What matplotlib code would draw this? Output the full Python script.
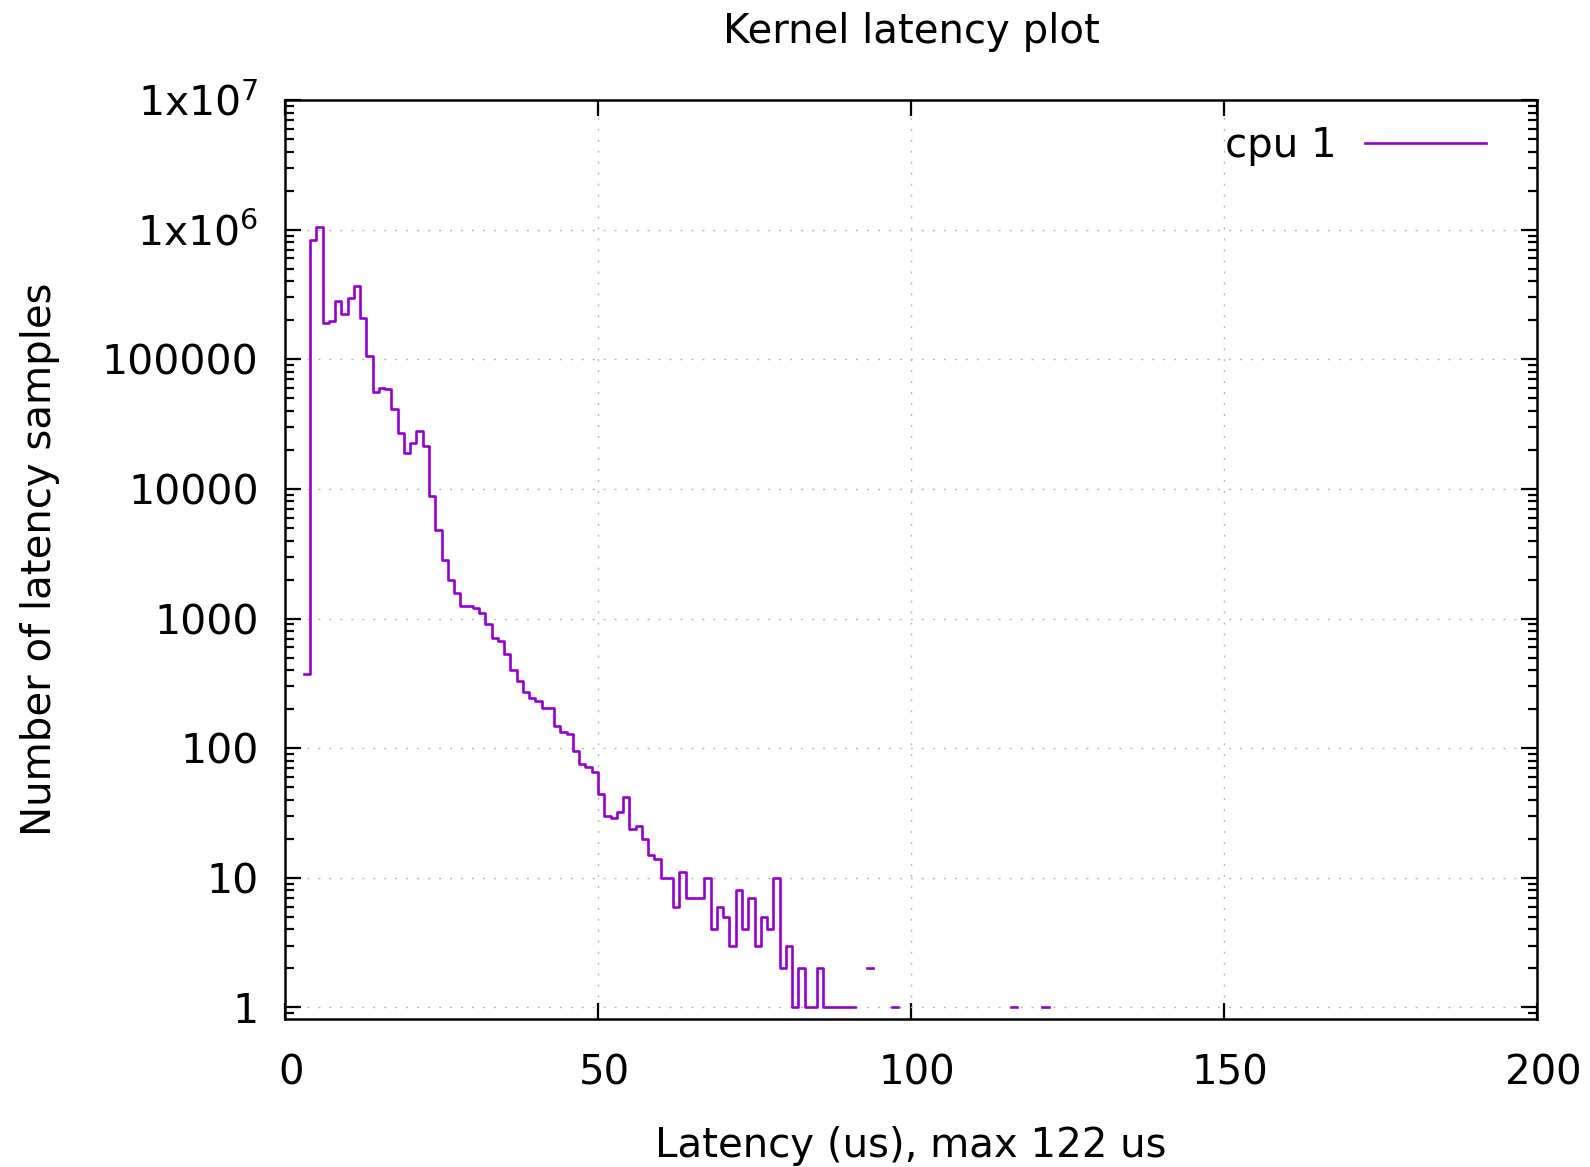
import numpy as np
import matplotlib
matplotlib.use("Agg")
import matplotlib.pyplot as plt
import matplotlib.transforms as mtransforms
from matplotlib import ticker

# latency histogram, cpu 1 (bin = 1 us), zero counts are gaps on the log axis
latency_us = list(range(3, 123))
counts = [
    373, 837000, 1050000, 189000, 196000, 284000, 225000, 298000, 370000, 209000,
    105700, 55800, 60300, 58500, 41000, 26800, 18900, 22500, 28200, 21600,
    8810, 4850, 2850, 1990, 1580, 1260, 1250, 1210, 1110, 906,
    702, 673, 532, 403, 331, 270, 242, 232, 205, 203,
    149, 134, 128, 96, 75, 72, 66, 44, 30, 29,
    32, 42, 24, 25, 20, 15, 14, 10, 10, 6,
    11, 7, 7, 7, 10, 4, 6, 5, 3, 8,
    4, 7, 3, 5, 4, 10, 2, 3, 1, 2,
    1, 1, 2, 1, 1, 1, 1, 1, 0, 0,
    2, 0, 0, 0, 1, 0, 0, 0, 0, 0,
    0, 0, 0, 0, 0, 0, 0, 0, 0, 0,
    0, 0, 0, 1, 0, 0, 0, 0, 1, 0,
]
series_label = "cpu 1"

x_ticks = [0, 50, 100, 150, 200]
y_ticks = [1, 10, 100, 1000, 10000, 100000, 1e6, 1e7]
y_tick_labels = ["1", "10", "100", "1000", "10000", "100000",
                 "1x10$^{6}$", "1x10$^{7}$"]

FS = 29
plt.rcParams["font.family"] = ["DejaVu Sans"]
plt.rcParams["mathtext.fontset"] = "dejavusans"

W, H = 1590, 1167
fig = plt.figure(figsize=(W / 100, H / 100), dpi=100)
left, right, top, bottom = 285, 1537, 100, 1019
ax = fig.add_axes([left / W, 1 - bottom / H, (right - left) / W, (bottom - top) / H])

y = np.array(counts, dtype=float)
y[y <= 0] = np.nan
ax.step(latency_us, y, where="post", color="#9400d3", lw=1.9, label=series_label)

ax.set_yscale("log")
ax.set_xlim(0, 200)
ax.set_ylim(0.815, 1e7)

ax.set_xticks(x_ticks)
ax.set_yticks(y_ticks)
ax.set_yticklabels(y_tick_labels)
ax.yaxis.set_minor_locator(ticker.LogLocator(base=10, subs=np.arange(2, 10), numticks=100))
ax.yaxis.set_minor_formatter(ticker.NullFormatter())
ax.xaxis.set_minor_locator(ticker.NullLocator())

ax.tick_params(which="both", direction="in", top=True, right=True,
               width=1.6, color="black")
ax.tick_params(axis="y", labelsize=29.5, pad=19)
ax.tick_params(axis="x", labelsize=FS, pad=25)
ax.tick_params(which="major", length=11.5)
ax.tick_params(which="minor", length=6.5)

# gnuplot puts the x labels a few pixels right of the tick
offset = mtransforms.ScaledTranslation(6 / 100, 0, fig.dpi_scale_trans)
for lbl in ax.get_xticklabels():
    lbl.set_transform(lbl.get_transform() + offset)

ax.grid(True, which="major", color="#b4b4b4", lw=1.0, linestyle=(0, (1.4, 6.5)))
ax.set_axisbelow(True)
for s in ax.spines.values():
    s.set_linewidth(1.8)
    s.set_color("black")

ax.set_title("Kernel latency plot", fontsize=FS, y=(bottom - 40) / (bottom - top), va="center")
ax.set_xlabel("Latency (us), max 122 us", fontsize=FS, va="center")
ax.xaxis.set_label_coords(0.5, (bottom - 1146) / (bottom - top))
ax.set_ylabel("Number of latency samples", fontsize=FS, va="center")
ax.yaxis.set_label_coords((40 - left) / (right - left), 0.5)

ax.legend(loc="upper right", bbox_to_anchor=(1486 / W, 1 - 126 / H),
          bbox_transform=fig.transFigure, frameon=False, markerfirst=False,
          fontsize=FS, handlelength=3.0, handletextpad=0.7,
          borderpad=0, borderaxespad=0)

fig.savefig("out.png", dpi=100)
